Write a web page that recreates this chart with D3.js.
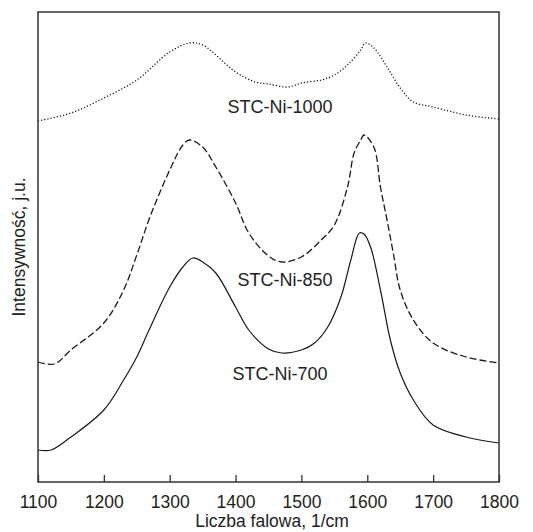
<!DOCTYPE html>
<html>
<head>
<meta charset="utf-8">
<script src="https://cdn.jsdelivr.net/npm/d3@7/dist/d3.min.js"></script>
<style>
html,body{margin:0;padding:0;background:#fff;}
svg{display:block;font-family:"Liberation Sans",Arial,sans-serif;}
</style>
</head>
<body>
<svg id="chart" width="533" height="532"></svg>
<script>
// Wavenumbers (1/cm) and intensities (arbitrary units, offset stacked)
const wn1000 = [1100,1150,1200,1250,1300,1330,1350,1400,1430,1450,1480,1500,1530,1550,1570,1590,1597,1610,1630,1650,1670,1700,1750,1800];
const i1000  = [361,369,384,402,430,439,437,410,400,398,395,399,402,407,417,432,439,434,415,394,380,375,367,363];

const wn850 = [1100,1125,1150,1200,1230,1250,1270,1300,1320,1330,1350,1370,1400,1420,1450,1470,1500,1530,1550,1570,1580,1590,1595,1610,1620,1630,1640,1650,1670,1700,1750,1800];
const i850  = [120,118,132,159,192,227,265,312,337,342,335,315,279,249,226,220,225,242,257,295,329,342,347,335,295,262,227,192,162,139,125,119];

const wn700 = [1100,1120,1150,1200,1230,1250,1270,1300,1320,1335,1350,1370,1400,1420,1450,1470,1500,1520,1540,1560,1575,1588,1595,1605,1620,1635,1650,1670,1700,1750,1800];
const i700  = [32,32,45,72,102,125,154,195,215,224,220,209,175,152,133,129,132,139,155,185,222,249,248,235,192,142,109,82,57,45,39];

const seriesNames = ["STC-Ni-1000","STC-Ni-850","STC-Ni-700"];
const xTicks = [1100,1200,1300,1400,1500,1600,1700,1800];
const xTitle = "Liczba falowa, 1/cm";
const yTitle = "Intensywność, j.u.";

const svg = d3.select("#chart");
const L = 38, R = 499, T = 12, B = 482;
const x = d3.scaleLinear().domain([1100,1800]).range([L,R]);
const y = d3.scaleLinear().domain([0,470]).range([B,T]);

const series = [
  {name: seriesNames[0], wn: wn1000, v: i1000, dash: "1.2,2", width: 1.3, lx: 280, ly: 113},
  {name: seriesNames[1], wn: wn850,  v: i850,  dash: "7,3",   width: 1.3, lx: 285, ly: 286},
  {name: seriesNames[2], wn: wn700,  v: i700,  dash: null,    width: 1.2, lx: 280, ly: 380}
];

const line = d3.line().x(d => x(d[0])).y(d => y(d[1])).curve(d3.curveCatmullRom.alpha(0.5));

series.forEach(s => {
  const pts = s.wn.map((w,i) => [w, s.v[i]]);
  svg.append("path")
    .attr("d", line(pts))
    .attr("fill","none")
    .attr("stroke","#1a1a1a")
    .attr("stroke-width", s.width)
    .attr("stroke-dasharray", s.dash);
  svg.append("text")
    .attr("x", s.lx).attr("y", s.ly)
    .attr("text-anchor","middle")
    .attr("font-size", 18)
    .attr("fill","#222")
    .text(s.name);
});

// Frame
svg.append("rect")
  .attr("x", L).attr("y", T).attr("width", R-L).attr("height", B-T)
  .attr("fill","none").attr("stroke","#333").attr("stroke-width",1.5);

// Bottom axis with inward ticks
const xAxis = d3.axisBottom(x).tickValues(xTicks).tickSizeInner(-7).tickSizeOuter(0).tickPadding(14).tickFormat(d3.format("d"));
const gx = svg.append("g").attr("transform",`translate(0,${B})`).call(xAxis);
gx.select(".domain").remove();
gx.selectAll(".tick line").attr("stroke","#333").attr("stroke-width",1.3);
gx.selectAll(".tick text").attr("font-size",17.5).attr("fill","#222").attr("font-family","Liberation Sans, Arial, sans-serif");

svg.append("text")
  .attr("x", 272).attr("y", 527)
  .attr("text-anchor","middle").attr("font-size",17.5).attr("fill","#222")
  .text(xTitle);

svg.append("text")
  .attr("transform","translate(25,247) rotate(-90)")
  .attr("text-anchor","middle").attr("font-size",17.5).attr("fill","#222")
  .text(yTitle);
</script>
</body>
</html>
